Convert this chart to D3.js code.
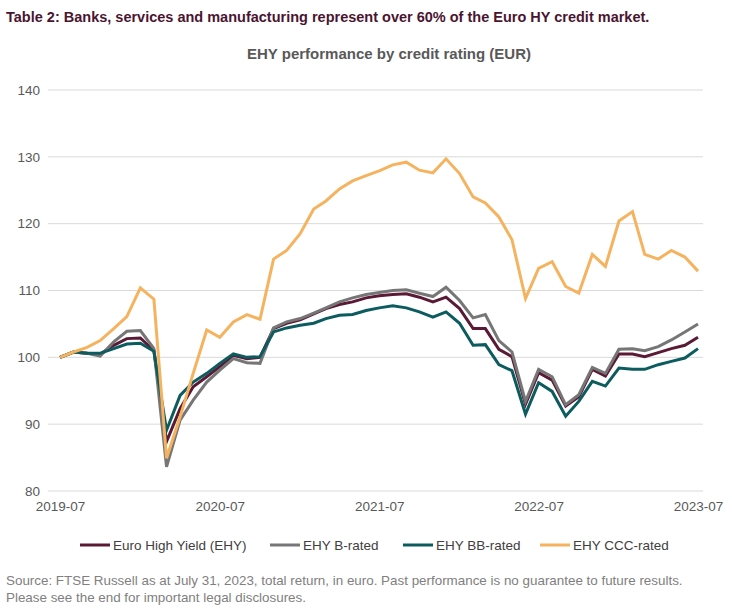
<!DOCTYPE html>
<html>
<head>
<meta charset="utf-8">
<script src="https://cdn.jsdelivr.net/npm/d3@7"></script>
<style>
  html, body { margin: 0; padding: 0; background: #fff; }
  svg { display: block; font-family: "Liberation Sans", Arial, sans-serif; }
</style>
</head>
<body>
<svg id="chart" width="732" height="614"></svg>
<script>
const startMonth = "2019-07";
const monthCount = 49;
const xTickLabels = ["2019-07", "2020-07", "2021-07", "2022-07", "2023-07"];
const yTicks = [80, 90, 100, 110, 120, 130, 140];

const seriesNames = ["Euro High Yield (EHY)", "EHY B-rated", "EHY BB-rated", "EHY CCC-rated"];
const seriesColors = ["#5a1a35", "#767676", "#0c5b5f", "#f5b35f"];

const ehy = [100, 100.8, 100.6, 100.5, 101.8, 102.8, 102.9, 101.0, 87.4, 92.3, 95.6, 97.1, 98.6, 100.3, 99.8, 100.0,
  104.3, 105.1, 105.6, 106.5, 107.3, 107.9, 108.3, 108.9, 109.2, 109.4, 109.5, 109.0, 108.3, 109.0, 107.3, 104.3,
  104.3, 101.2, 100.1, 93.0, 97.7, 96.6, 92.7, 94.1, 98.2, 97.2, 100.5, 100.5, 100.1, 100.7, 101.3, 101.8, 103.0];
const bRated = [100, 100.8, 100.6, 100.2, 102.3, 103.9, 104.0, 101.3, 83.6, 90.6, 93.6, 96.3, 98.1, 99.8, 99.2, 99.1,
  104.4, 105.3, 105.8, 106.6, 107.4, 108.3, 108.9, 109.4, 109.7, 110.0, 110.1, 109.6, 109.1, 110.5, 108.5, 105.9,
  106.4, 102.5, 100.8, 93.4, 98.2, 97.1, 92.9, 94.4, 98.5, 97.6, 101.2, 101.3, 101.0, 101.6, 102.6, 103.8, 105.0];
const bbRated = [100, 100.8, 100.6, 100.6, 101.3, 102.0, 102.1, 100.9, 89.1, 94.3, 96.3, 97.6, 99.1, 100.5, 100.0, 100.1,
  103.8, 104.4, 104.8, 105.1, 105.8, 106.3, 106.4, 107.0, 107.4, 107.7, 107.4, 106.8, 106.0, 106.8, 105.1, 101.8,
  101.9, 98.9, 98.0, 91.5, 96.2, 94.9, 91.2, 93.4, 96.4, 95.7, 98.4, 98.2, 98.2, 98.9, 99.4, 99.9, 101.3];
const cccRated = [100, 100.8, 101.5, 102.5, 104.3, 106.1, 110.4, 108.7, 84.9, 91.1, 97.6, 104.1, 103.0, 105.3, 106.4, 105.7,
  114.7, 116.0, 118.5, 122.2, 123.4, 125.2, 126.4, 127.2, 127.9, 128.8, 129.2, 128.0, 127.6, 129.7, 127.5, 124.0,
  123.1, 121.0, 117.6, 108.8, 113.3, 114.3, 110.6, 109.6, 115.4, 113.6, 120.4, 121.8, 115.4, 114.7, 116.0, 115.0, 112.9];

const seriesValues = [ehy, bRated, bbRated, cccRated];

const parse = d3.timeParse("%Y-%m");
const t0 = parse(startMonth);
const dates = d3.range(monthCount).map(i => d3.timeMonth.offset(t0, i));

const svg = d3.select("#chart");

// Titles
svg.append("text").attr("x", 6).attr("y", 22)
  .attr("font-size", 14.5).attr("font-weight", "bold").attr("fill", "#4a1530")
  .text("Table 2: Banks, services and manufacturing represent over 60% of the Euro HY credit market.");
svg.append("text").attr("x", 389).attr("y", 59).attr("text-anchor", "middle")
  .attr("font-size", 15).attr("font-weight", "bold").attr("fill", "#595959")
  .text("EHY performance by credit rating (EUR)");

const x = d3.scaleTime().domain([dates[0], dates[dates.length - 1]]).range([60, 698]);
const y = d3.scaleLinear().domain([80, 140]).range([491, 90]);

// Gridlines
const grid = svg.append("g");
grid.selectAll("line").data(yTicks).join("line")
  .attr("x1", 48).attr("x2", 703)
  .attr("y1", d => y(d)).attr("y2", d => y(d))
  .attr("stroke", "#d9d9d9").attr("stroke-width", 1);

// Y axis
const yAxis = d3.axisLeft(y).tickValues(yTicks).tickSize(0).tickPadding(0);
const gy = svg.append("g").attr("transform", "translate(40,0)").call(yAxis);
gy.select(".domain").remove();
gy.selectAll("text").attr("font-size", 13.5).attr("fill", "#595959")
  .attr("font-family", "'Liberation Sans', Arial, sans-serif");

// X axis
const xTickDates = xTickLabels.map(parse);
const xAxis = d3.axisBottom(x).tickValues(xTickDates).tickFormat(d3.timeFormat("%Y-%m")).tickSize(0).tickPadding(0);
const gx = svg.append("g").attr("transform", "translate(0,501)").call(xAxis);
gx.select(".domain").remove();
gx.selectAll("text").attr("font-size", 13.5).attr("fill", "#595959")
  .attr("font-family", "'Liberation Sans', Arial, sans-serif");

// Lines
const line = d3.line().x((d, i) => x(dates[i])).y(d => y(d)).curve(d3.curveLinear);
svg.append("g").selectAll("path").data(seriesValues).join("path")
  .attr("d", d => line(d))
  .attr("fill", "none")
  .attr("stroke", (d, i) => seriesColors[i])
  .attr("stroke-width", 3)
  .attr("stroke-linejoin", "miter");

// Legend
const legendX = [80, 270, 403, 540];
const lg = svg.append("g").selectAll("g").data(seriesNames).join("g")
  .attr("transform", (d, i) => `translate(${legendX[i]},545)`);
lg.append("line").attr("x1", 0).attr("x2", 30).attr("y1", 0).attr("y2", 0)
  .attr("stroke", (d, i) => seriesColors[i]).attr("stroke-width", 3);
lg.append("text").attr("x", 33).attr("y", 5)
  .attr("font-size", 13.5).attr("fill", "#404040").text(d => d);

// Source
const src = svg.append("text").attr("font-size", 13.4).attr("fill", "#808080");
src.append("tspan").attr("x", 6).attr("y", 585)
  .text("Source: FTSE Russell as at July 31, 2023, total return, in euro. Past performance is no guarantee to future results.");
src.append("tspan").attr("x", 6).attr("y", 602)
  .text("Please see the end for important legal disclosures.");
</script>
</body>
</html>
